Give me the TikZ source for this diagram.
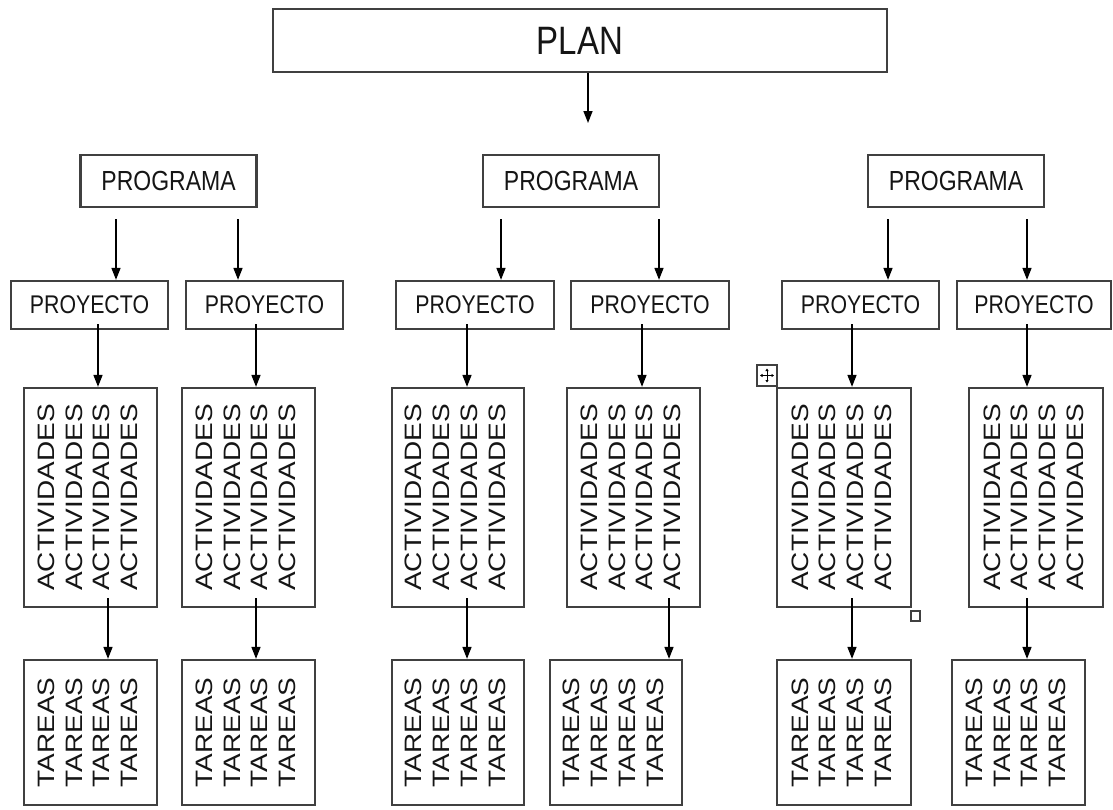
\documentclass[tikz,border=0pt]{standalone}
\usepackage{fontspec}
\setmainfont{Liberation Sans}
\usepackage{graphicx}
\usetikzlibrary{arrows.meta,calc}
\definecolor{boxgray}{HTML}{404040}
\definecolor{txt}{HTML}{151515}
\newcommand{\htext}[2]{\scalebox{1}[1.2]{\fontsize{#1}{#1}\selectfont #2}}
\newcommand{\vtext}[1]{\scalebox{1}[1.18]{\rotatebox{90}{\fontsize{23.7}{27.7}\selectfont\begin{tabular}{@{}l@{}}#1\\#1\\#1\\#1\end{tabular}}}}
\begin{document}
\begin{tikzpicture}[x=1pt,y=-1pt,
  box/.style={draw=boxgray,line width=2.3pt,fill=white,inner sep=0pt,text=txt},
  progbox/.style={box,minimum width=176pt,minimum height=52pt},
  proybox/.style={box,minimum width=157pt,minimum height=48pt},
  actbox/.style={box,minimum width=133pt,minimum height=219pt},
  tarbox/.style={box,minimum width=133pt,minimum height=145pt},
  arr/.style={line width=1.5pt,-{Triangle[length=12pt,width=9pt]}}]
\useasboundingbox (0,0) rectangle (1113,809);
\fill[white] (0,0) rectangle (1113,809);
% PLAN
\node[box,minimum width=614pt,minimum height=63pt] (plan) at (580,40.5) {\htext{33}{PLAN}};
\coordinate (planend) at (588,123);
\draw[arr] (plan.south -| planend) -- (planend);
% PROGRAMA
\node[progbox] (prog1) at (168.5,181) {\htext{23}{PROGRAMA}};
\node[progbox] (prog2) at (571,181) {\htext{23}{PROGRAMA}};
\node[progbox] (prog3) at (956,181) {\htext{23}{PROGRAMA}};
% PROYECTO
\node[proybox] (p11) at (89.5,305) {\htext{21.3}{PROYECTO}};
\node[proybox] (p12) at (264.5,305) {\htext{21.3}{PROYECTO}};
\node[proybox,minimum width=158pt] (p21) at (475,305) {\htext{21.3}{PROYECTO}};
\node[proybox,minimum width=158pt] (p22) at (650,305) {\htext{21.3}{PROYECTO}};
\node[proybox] (p31) at (860.5,305) {\htext{21.3}{PROYECTO}};
\node[proybox,minimum width=154pt] (p32) at (1034,305) {\htext{21.3}{PROYECTO}};
% ACTIVIDADES
\node[actbox] (a11) at (90.5,497.5) {\vtext{ACTIVIDADES}};
\node[actbox] (a12) at (248.5,497.5) {\vtext{ACTIVIDADES}};
\node[actbox,minimum width=132pt] (a21) at (458,497.5) {\vtext{ACTIVIDADES}};
\node[actbox] (a22) at (633.5,497.5) {\vtext{ACTIVIDADES}};
\node[actbox,minimum width=134pt] (a31) at (844,497.5) {\vtext{ACTIVIDADES}};
\node[actbox,minimum width=134pt] (a32) at (1036,497.5) {\vtext{ACTIVIDADES}};
% TAREAS
\node[tarbox] (t11) at (90.5,732.5) {\vtext{TAREAS}};
\node[tarbox] (t12) at (248.5,732.5) {\vtext{TAREAS}};
\node[tarbox,minimum width=132pt] (t21) at (458,732.5) {\vtext{TAREAS}};
\node[tarbox,minimum width=132pt] (t22) at (616,732.5) {\vtext{TAREAS}};
\node[tarbox,minimum width=134pt] (t31) at (844,732.5) {\vtext{TAREAS}};
\node[tarbox] (t32) at (1018.5,732.5) {\vtext{TAREAS}};
% programa -> proyecto
\draw[arr] ($(prog1.south)+(-52.5,11)$) -- ($(p11.north)+(26.5,0)$);
\draw[arr] ($(prog1.south)+(69.5,11)$) -- ($(p12.north)+(-26.5,0)$);
\draw[arr] ($(prog2.south)+(-70,11)$) -- ($(p21.north)+(26,0)$);
\draw[arr] ($(prog2.south)+(88,11)$) -- ($(p22.north)+(9,0)$);
\draw[arr] ($(prog3.south)+(-68,11)$) -- ($(p31.north)+(27.5,0)$);
\draw[arr] ($(prog3.south)+(71,11)$) -- ($(p32.north)+(-7,0)$);
% proyecto -> actividades
\draw[arr] ($(p11.south)+(8.5,-6)$) -- ($(a11.north)+(7.5,0)$);
\draw[arr] ($(p12.south)+(-8.5,-6)$) -- ($(a12.north)+(7.5,0)$);
\draw[arr] ($(p21.south)+(-8,-6)$) -- ($(a21.north)+(9,0)$);
\draw[arr] ($(p22.south)+(-8,-6)$) -- ($(a22.north)+(8.5,0)$);
\draw[arr] ($(p31.south)+(-8.5,-6)$) -- ($(a31.north)+(8,0)$);
\draw[arr] ($(p32.south)+(-7,-6)$) -- ($(a32.north)+(-9,0)$);
% actividades -> tareas
\draw[arr] ($(a11.south)+(17.5,-10)$) -- ($(t11.north)+(17.5,0)$);
\draw[arr] ($(a12.south)+(7.5,-10)$) -- ($(t12.north)+(7.5,0)$);
\draw[arr] ($(a21.south)+(9,-10)$) -- ($(t21.north)+(9,0)$);
\draw[arr] ($(a22.south)+(35.5,-10)$) -- ($(t22.north)+(53,0)$);
\draw[arr] ($(a31.south)+(8,-10)$) -- ($(t31.north)+(8,0)$);
\draw[arr] ($(a32.south)+(-9,-10)$) -- ($(t32.north)+(8.5,0)$);
% editor handles
\draw[boxgray,line width=1.6pt,fill=white] (757,365) rectangle (777,386);
\draw[line width=0.8pt,-{Triangle[length=2.5pt,width=3pt]}] (767,375.5) -- (767,368.5);
\draw[line width=0.8pt,-{Triangle[length=2.5pt,width=3pt]}] (767,375.5) -- (767,382.5);
\draw[line width=0.8pt,-{Triangle[length=2.5pt,width=3pt]}] (767,375.5) -- (760,375.5);
\draw[line width=0.8pt,-{Triangle[length=2.5pt,width=3pt]}] (767,375.5) -- (774,375.5);
\draw[boxgray,line width=1.4pt,fill=white] (911,611) rectangle (920,621);
\end{tikzpicture}
\end{document}
